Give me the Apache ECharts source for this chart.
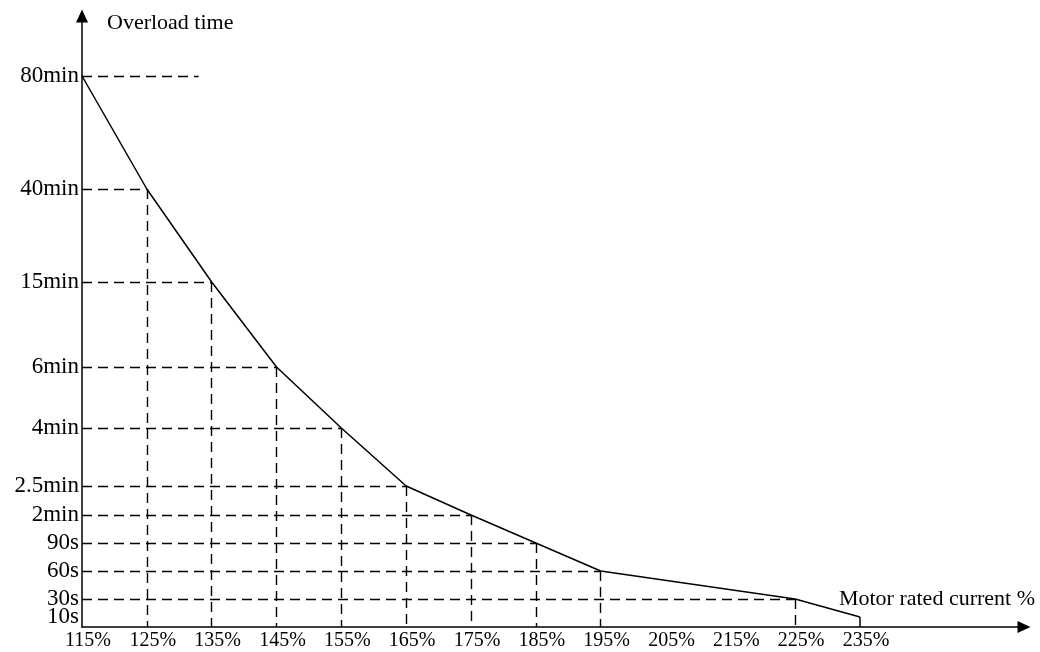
<!DOCTYPE html>
<html>
<head>
<meta charset="utf-8">
<script src="https://cdn.jsdelivr.net/npm/echarts@6/dist/echarts.min.js"></script>
<style>
  html, body { margin: 0; padding: 0; background: #ffffff; }
  #overloadChart { width: 1040px; height: 652px; }
</style>
</head>
<body>
<div id="overloadChart"></div>
<script>
// motor rated current (%) at each point of the curve
const currentPct = [115, 125, 135, 145, 155, 165, 175, 185, 195, 225, 235];
// overload time labels, one per point
const timeLabels = ["80min", "40min", "15min", "6min", "4min", "2.5min", "2min", "90s", "60s", "30s", "10s"];
// where each time label sits on the (schematic, non-linear) time axis
const timeAxisPos = [551, 438, 345, 260, 199, 141, 112, 84, 56, 28, 10];
// x tick labels
const xTicks = [115, 125, 135, 145, 155, 165, 175, 185, 195, 205, 215, 225, 235];
// the 80min guide runs a bit past the first point
const topGuideEnd = 133;

const serif = "Liberation Serif, Times New Roman, serif";
const dashStyle = { color: "#000", width: 1.4, type: [10, 6] };

let curve = currentPct.map((x, i) => [x, timeAxisPos[i]]);

// dashed guide lines from each point to both axes
let guides = [];
curve.forEach((p, i) => {
  if (i === curve.length - 1) {
    // last point only has a short solid drop to the axis
    guides.push([
      { coord: [p[0], p[1]], lineStyle: { type: "solid", width: 1.5, color: "#000" } },
      { coord: [p[0], 0] }
    ]);
    return;
  }
  let hEnd = i === 0 ? topGuideEnd : p[0];
  guides.push([{ coord: [115, p[1]] }, { coord: [hEnd, p[1]] }]);
  if (i > 0) {
    guides.push([{ coord: [p[0], p[1]] }, { coord: [p[0], 0] }]);
  }
});

// lowest label sits too close to the next one, so it goes on its own axis
const lastIdx = timeAxisPos.length - 1;
const yLabelStyle = {
  formatter: v => timeLabels[timeAxisPos.indexOf(v)],
  fontFamily: serif,
  fontSize: 23,
  color: "#000",
  margin: 3,
  hideOverlap: false
};

let myChart = echarts.init(document.getElementById("overloadChart"));
let option = {
  backgroundColor: "#ffffff",
  animation: false,
  grid: {
    left: 82,
    right: 16,
    top: 16,
    bottom: 25
  },
  xAxis: {
    type: "value",
    min: 115,
    max: 260.3,
    axisLine: {
      show: true,
      symbol: ["none", "triangle"],
      symbolSize: [12, 13],
      lineStyle: { color: "#000", width: 1.5 }
    },
    axisTick: { show: false },
    splitLine: { show: false },
    axisLabel: {
      customValues: xTicks,
      formatter: v => v + "%",
      fontFamily: serif,
      fontSize: 20,
      color: "#000",
      margin: 4,
      padding: [0, 0, 0, 12],
      hideOverlap: false
    }
  },
  yAxis: [
    {
      type: "value",
      min: 0,
      max: 611,
      axisLine: {
        show: true,
        symbol: ["none", "triangle"],
        symbolSize: [12, 13],
        lineStyle: { color: "#000", width: 1.5 }
      },
      axisTick: { show: false },
      splitLine: { show: false },
      axisLabel: Object.assign({ customValues: timeAxisPos.slice(0, lastIdx) }, yLabelStyle)
    },
    {
      type: "value",
      min: 0,
      max: 611,
      position: "left",
      axisLine: { show: false },
      axisTick: { show: false },
      splitLine: { show: false },
      axisLabel: Object.assign({ customValues: [timeAxisPos[lastIdx]] }, yLabelStyle)
    }
  ],
  graphic: [
    {
      type: "text",
      left: 107,
      top: 12,
      style: { text: "Overload time", font: "22px " + serif, fill: "#000" }
    },
    {
      type: "text",
      right: 5,
      top: 588,
      style: { text: "Motor rated current %", font: "22px " + serif, fill: "#000" }
    }
  ],
  series: [
    {
      type: "line",
      data: curve,
      symbol: "none",
      lineStyle: { color: "#000", width: 1.5 },
      markLine: {
        silent: true,
        symbol: ["none", "none"],
        label: { show: false },
        lineStyle: dashStyle,
        data: guides
      }
    }
  ]
};
myChart.setOption(option);
</script>
</body>
</html>
